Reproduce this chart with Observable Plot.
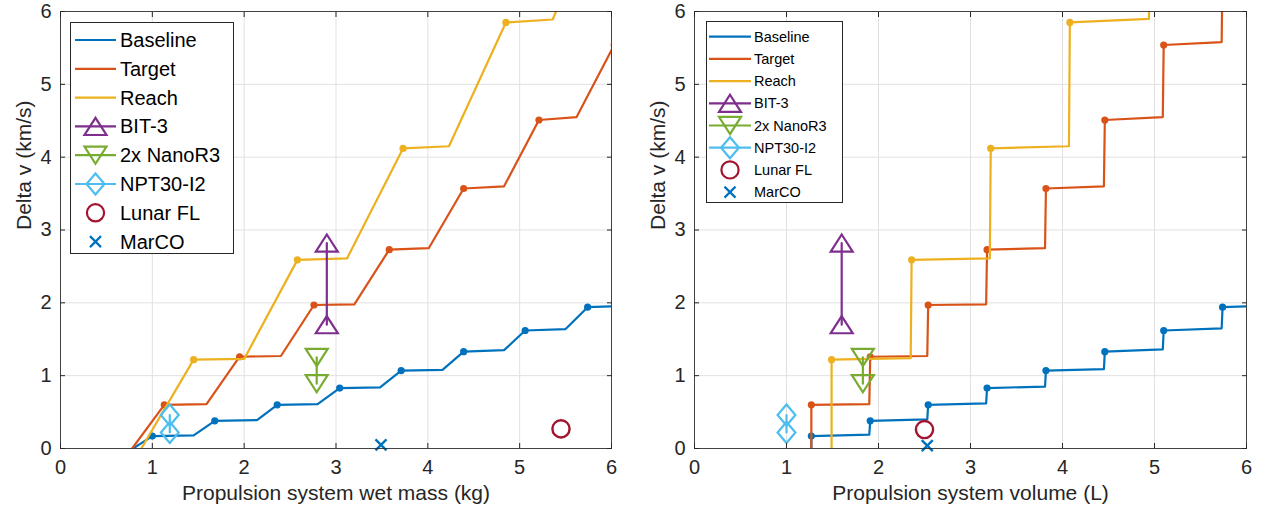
<!DOCTYPE html>
<html><head><meta charset="utf-8">
<script src="https://cdn.jsdelivr.net/npm/d3@7"></script>
<script src="https://cdn.jsdelivr.net/npm/@observablehq/plot@0.6"></script>
<style>
body{margin:0;background:#fff;}
#wrap{display:flex;width:1263px;height:520px;overflow:hidden;}
.panel{position:relative;flex:none;}
.panel svg.leg{position:absolute;overflow:visible;}
</style></head><body><div id="wrap"></div>
<script>
const FONT = '"Liberation Sans", Arial, Helvetica, sans-serif';
const TEXT = "#262626";

// ---- data ----
const xTicks = [0, 1, 2, 3, 4, 5, 6];
const yTicks = [0, 1, 2, 3, 4, 5, 6];
const seriesNames = ["Baseline", "Target", "Reach", "BIT-3", "2x NanoR3", "NPT30-I2", "Lunar FL", "MarCO"];
const seriesColors = ["#0072BD", "#D95319", "#EDB120", "#7E2F8E", "#77AC30", "#4DBEEE", "#A2142F", "#0072BD"];
const yLabel = "Delta v (km/s)";
const massLabel = "Propulsion system wet mass (kg)";
const volLabel = "Propulsion system volume (L)";

// curves: [x, delta v, knot marker flag]
const massBaseline = [[0.79,0,0],[1.00,0.17,1],[1.45,0.18,0],[1.68,0.38,1],[2.14,0.39,0],[2.36,0.60,1],[2.80,0.61,0],[3.04,0.83,1],[3.48,0.84,0],[3.71,1.07,1],[4.16,1.08,0],[4.39,1.33,1],[4.83,1.35,0],[5.06,1.62,1],[5.50,1.64,0],[5.74,1.94,1],[6.18,1.96,0]];
const massTarget = [[0.78,0,0],[1.13,0.60,1],[1.59,0.61,0],[1.95,1.26,1],[2.40,1.27,0],[2.76,1.97,1],[3.20,1.98,0],[3.58,2.73,1],[4.01,2.75,0],[4.39,3.57,1],[4.83,3.60,0],[5.21,4.51,1],[5.62,4.55,0],[6.03,5.54,1]];
const massReach = [[0.88,0,0],[1.45,1.22,1],[2.00,1.23,0],[2.58,2.59,1],[3.12,2.61,0],[3.73,4.12,1],[4.23,4.15,0],[4.85,5.85,1],[5.36,5.89,0],[5.98,7.80,1]];

const volBaseline = [[1.27,0,0],[1.27,0.17,1],[1.90,0.19,0],[1.91,0.38,1],[2.53,0.40,0],[2.54,0.60,1],[3.17,0.62,0],[3.18,0.83,1],[3.81,0.85,0],[3.82,1.07,1],[4.45,1.09,0],[4.46,1.33,1],[5.09,1.36,0],[5.10,1.62,1],[5.73,1.65,0],[5.74,1.94,1],[6.37,1.97,0]];
const volTarget = [[1.27,0,0],[1.27,0.60,1],[1.90,0.61,0],[1.91,1.26,1],[2.53,1.27,0],[2.54,1.97,1],[3.17,1.98,0],[3.18,2.73,1],[3.81,2.75,0],[3.82,3.57,1],[4.45,3.60,0],[4.46,4.51,1],[5.09,4.55,0],[5.10,5.54,1],[5.73,5.58,0],[5.74,6.70,1]];
const volReach = [[1.49,0,0],[1.49,1.22,1],[2.35,1.24,0],[2.36,2.59,1],[3.21,2.61,0],[3.22,4.12,1],[4.07,4.15,0],[4.08,5.85,1],[4.94,5.90,0],[4.95,7.80,1]];

// existing systems: delta v range (two values)
const bit3Y = [2.82, 1.70];
const nanoY = [1.25, 0.89];
const nptY = [0.46, 0.22];
const massSystemsX = [2.90, 2.79, 1.19]; // BIT-3, NanoR3, NPT30
const volSystemsX = [1.60, 1.83, 1.00];
const massLunar = [5.45, 0.27];
const massMarco = [3.49, 0.05];
const volLunar = [2.50, 0.26];
const volMarco = [2.53, 0.04];

// ---- MATLAB-like marker symbols ----
const rad = s => Math.sqrt(s / Math.PI);
const triUp = {draw(c, s){const r = rad(s), h = r*0.78; c.moveTo(0,-h); c.lineTo(r,h); c.lineTo(-r,h); c.closePath();}};
const triDown = {draw(c, s){const r = rad(s), h = r*0.78; c.moveTo(0,h); c.lineTo(r,-h); c.lineTo(-r,-h); c.closePath();}};
const diamond = {draw(c, s){const r = rad(s), w = r*0.85; c.moveTo(0,-r); c.lineTo(w,0); c.lineTo(0,r); c.lineTo(-w,0); c.closePath();}};
const ring = {draw(c, s){const r = rad(s); c.moveTo(r,0); c.arc(0,0,r,0,2*Math.PI); c.closePath();}};
const cross = {draw(c, s){const r = rad(s); c.moveTo(-r,-r); c.lineTo(r,r); c.moveTo(-r,r); c.lineTo(r,-r);}};
const symbols = [null, null, null, triUp, triDown, diamond, ring, cross];
const symR = [0, 0, 0, 11, 11, 10.5, 8.6, 5.5];

const toObj = arr => arr.map(([x, y, k]) => ({x, y, k}));
const intFmt = d3.format("d");

function makePanel(cfg) {
  const curves = [cfg.baseline, cfg.target, cfg.reach].map(toObj);
  const marks = [
    Plot.gridX({ticks: xTicks, stroke: "#e1e1e1", strokeOpacity: 1, strokeWidth: 1}),
    Plot.gridY({ticks: yTicks, stroke: "#e1e1e1", strokeOpacity: 1, strokeWidth: 1}),
  ];
  curves.forEach((d, i) => {
    marks.push(Plot.line(d, {x: "x", y: "y", stroke: seriesColors[i], strokeWidth: 2.2, clip: true}));
    marks.push(Plot.dot(d.filter(p => p.k), {x: "x", y: "y", r: 3.6, fill: seriesColors[i], stroke: "none", clip: true}));
  });
  const pairs = [bit3Y, nanoY, nptY];
  pairs.forEach((ys, j) => {
    const i = j + 3;
    const pts = ys.map(y => ({x: cfg.sysX[j], y}));
    marks.push(Plot.line(pts, {x: "x", y: "y", stroke: seriesColors[i], strokeWidth: 2.2}));
    marks.push(Plot.dot(pts, {x: "x", y: "y", symbol: symbols[i], r: symR[i], stroke: seriesColors[i], strokeWidth: 2.2, fill: "none"}));
  });
  marks.push(Plot.dot([cfg.lunar], {x: d => d[0], y: d => d[1], symbol: ring, r: symR[6], stroke: seriesColors[6], strokeWidth: 2.4, fill: "none"}));
  marks.push(Plot.dot([cfg.marco], {x: d => d[0], y: d => d[1], symbol: cross, r: symR[7], stroke: seriesColors[7], strokeWidth: 2.4}));
  marks.push(
    Plot.frame({stroke: "#262626", strokeWidth: 1, strokeOpacity: 0.85}),
    Plot.axisX({ticks: xTicks, anchor: "bottom", tickSize: -5, tickFormat: () => "", label: null, stroke: "#262626"}),
    Plot.axisX({ticks: xTicks, anchor: "top", tickSize: -5, tickFormat: () => "", label: null, stroke: "#262626"}),
    Plot.axisY({ticks: yTicks, anchor: "left", tickSize: -5, tickFormat: () => "", label: null, stroke: "#262626"}),
    Plot.axisY({ticks: yTicks, anchor: "right", tickSize: -5, tickFormat: () => "", label: null, stroke: "#262626"}),
    Plot.axisX({ticks: xTicks, anchor: "bottom", tickSize: 0, tickPadding: 11, tickFormat: intFmt, fontSize: 20, label: null, fill: TEXT}),
    Plot.axisY({ticks: yTicks, anchor: "left", tickSize: 0, tickPadding: 9, tickFormat: intFmt, fontSize: 20, label: null, fill: TEXT}),
    Plot.text([cfg.xLabel], {text: d => d, frameAnchor: "bottom", dy: 45, fontSize: 21, fill: TEXT, lineAnchor: "middle"}),
    Plot.text([yLabel], {text: d => d, frameAnchor: "left", dx: -36, rotate: -90, fontSize: 21, fill: TEXT, lineAnchor: "middle"})
  );
  const svg = Plot.plot({
    width: cfg.width, height: 520,
    marginLeft: cfg.ml, marginRight: cfg.mr, marginTop: 11, marginBottom: 72,
    x: {domain: [0, 6]}, y: {domain: [0, 6]},
    style: {fontFamily: FONT, color: TEXT, background: "white", overflow: "visible"},
    marks
  });
  const div = document.createElement("div");
  div.className = "panel";
  div.style.width = cfg.width + "px";
  div.appendChild(svg);
  div.appendChild(makeLegend(cfg.leg));
  return div;
}

function makeLegend(L) {
  const svg = d3.create("svg").attr("class", "leg")
    .attr("width", L.w).attr("height", L.h)
    .style("left", L.x + "px").style("top", L.y + "px");
  svg.append("rect").attr("x", 0.5).attr("y", 0.5).attr("width", L.w - 1).attr("height", L.h - 1)
    .attr("fill", "white").attr("stroke", "#262626").attr("stroke-width", 1);
  seriesNames.forEach((name, i) => {
    const cy = L.y0 + i * L.dy;
    const g = svg.append("g");
    if (i < 6) g.append("line").attr("x1", L.lx0).attr("x2", L.lx1).attr("y1", cy).attr("y2", cy)
      .attr("stroke", seriesColors[i]).attr("stroke-width", 2.2);
    if (symbols[i]) {
      const p = d3.path();
      symbols[i].draw(p, symR[i] * symR[i] * Math.PI);
      g.append("path").attr("d", p.toString())
        .attr("transform", `translate(${(L.lx0 + L.lx1) / 2},${cy})`)
        .attr("fill", "none").attr("stroke", seriesColors[i]).attr("stroke-width", 2.2);
    }
    g.append("text").attr("x", L.tx).attr("y", cy).attr("dy", "0.35em")
      .attr("font-family", FONT).attr("font-size", L.fs).attr("fill", "#000").text(name);
  });
  return svg.node();
}

const wrap = document.getElementById("wrap");
wrap.appendChild(makePanel({
  width: 631, ml: 60, mr: 20,
  baseline: massBaseline, target: massTarget, reach: massReach,
  sysX: massSystemsX, lunar: massLunar, marco: massMarco, xLabel: massLabel,
  leg: {x: 70, y: 22, w: 164, h: 232, y0: 18, dy: 28.8, lx0: 5, lx1: 46, tx: 50, fs: 20}
}));
wrap.appendChild(makePanel({
  width: 632, ml: 63, mr: 17,
  baseline: volBaseline, target: volTarget, reach: volReach,
  sysX: volSystemsX, lunar: volLunar, marco: volMarco, xLabel: volLabel,
  leg: {x: 75, y: 21, w: 137, h: 182, y0: 15.7, dy: 22.2, lx0: 3, lx1: 45, tx: 48, fs: 14.5}
}));
</script></body></html>
